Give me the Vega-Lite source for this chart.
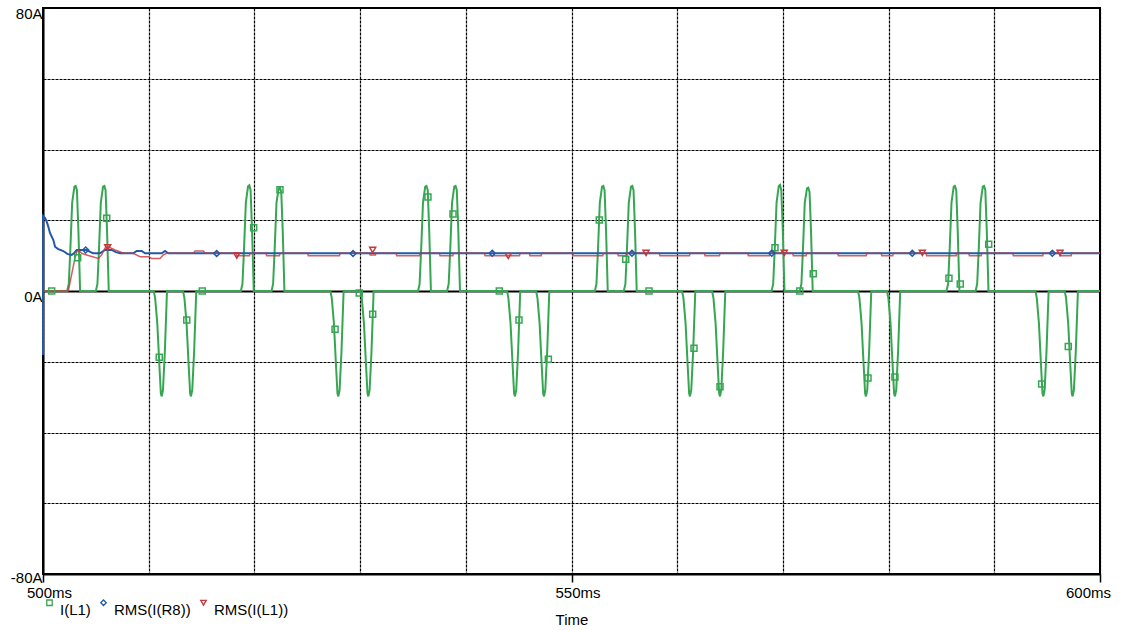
{
  "$schema": "https://vega.github.io/schema/vega-lite/v6.json",
  "width": 1057,
  "height": 566,
  "autosize": {"type": "none"},
  "padding": {"left": 43, "top": 8, "right": 27, "bottom": 56},
  "background": "white",
  "config": {
    "font": "Liberation Sans",
    "view": {"stroke": "#000", "strokeWidth": 2}
  },
  "datasets": {
    "iL1": [
      {"t":500,"v":0},
      {"t":502.29,"v":0},{"t":502.44,"v":2},{"t":502.59,"v":12},{"t":502.76,"v":25},{"t":502.97,"v":29.5},{"t":503.09,"v":29.7},{"t":503.21,"v":28.5},{"t":503.35,"v":17},{"t":503.51,"v":0},
      {"t":505.0,"v":0},{"t":505.15,"v":2},{"t":505.3,"v":12},{"t":505.47,"v":25},{"t":505.68,"v":29.5},{"t":505.8,"v":29.7},{"t":505.92,"v":28.5},{"t":506.06,"v":17},{"t":506.22,"v":0},
      {"t":510.48,"v":0},{"t":510.61,"v":-2},{"t":510.81,"v":-9},{"t":511.01,"v":-21},{"t":511.15,"v":-29},{"t":511.23,"v":-29.8},{"t":511.35,"v":-28},{"t":511.53,"v":-17},{"t":511.73,"v":0},
      {"t":513.25,"v":0},{"t":513.38,"v":-2},{"t":513.58,"v":-9},{"t":513.78,"v":-21},{"t":513.92,"v":-29},{"t":514.0,"v":-29.8},{"t":514.12,"v":-28},{"t":514.3,"v":-17},{"t":514.5,"v":0},
      {"t":518.72,"v":0},{"t":518.87,"v":2},{"t":519.02,"v":12},{"t":519.19,"v":25},{"t":519.4,"v":29.6},{"t":519.52,"v":29.9},{"t":519.64,"v":28.5},{"t":519.78,"v":17},{"t":519.94,"v":0},
      {"t":521.62,"v":0},{"t":521.77,"v":2},{"t":521.92,"v":12},{"t":522.09,"v":25},{"t":522.3,"v":29},{"t":522.42,"v":29.2},{"t":522.54,"v":28},{"t":522.68,"v":17},{"t":522.84,"v":0},
      {"t":527.19,"v":0},{"t":527.32,"v":-2},{"t":527.52,"v":-9},{"t":527.72,"v":-21},{"t":527.86,"v":-29},{"t":527.94,"v":-29.8},{"t":528.06,"v":-28},{"t":528.24,"v":-17},{"t":528.44,"v":0},
      {"t":530.03,"v":0},{"t":530.16,"v":-2},{"t":530.36,"v":-9},{"t":530.56,"v":-21},{"t":530.7,"v":-29},{"t":530.78,"v":-29.8},{"t":530.9,"v":-28},{"t":531.08,"v":-17},{"t":531.28,"v":0},
      {"t":535.48,"v":0},{"t":535.63,"v":2},{"t":535.78,"v":12},{"t":535.95,"v":25},{"t":536.16,"v":29.5},{"t":536.28,"v":29.7},{"t":536.4,"v":28.5},{"t":536.54,"v":17},{"t":536.7,"v":0},
      {"t":538.23,"v":0},{"t":538.38,"v":2},{"t":538.53,"v":12},{"t":538.7,"v":25},{"t":538.91,"v":29.5},{"t":539.03,"v":29.7},{"t":539.15,"v":28.5},{"t":539.29,"v":17},{"t":539.45,"v":0},
      {"t":543.9,"v":0},{"t":544.03,"v":-2},{"t":544.23,"v":-9},{"t":544.43,"v":-21},{"t":544.57,"v":-29},{"t":544.65,"v":-29.8},{"t":544.77,"v":-28},{"t":544.95,"v":-17},{"t":545.15,"v":0},
      {"t":546.65,"v":0},{"t":546.78,"v":-2},{"t":546.98,"v":-9},{"t":547.18,"v":-21},{"t":547.32,"v":-29},{"t":547.4,"v":-29.8},{"t":547.52,"v":-28},{"t":547.7,"v":-17},{"t":547.9,"v":0},
      {"t":552.21,"v":0},{"t":552.36,"v":2},{"t":552.51,"v":12},{"t":552.68,"v":25},{"t":552.89,"v":29.5},{"t":553.01,"v":29.7},{"t":553.13,"v":28.5},{"t":553.27,"v":17},{"t":553.43,"v":0},
      {"t":554.95,"v":0},{"t":555.1,"v":2},{"t":555.25,"v":12},{"t":555.42,"v":25},{"t":555.63,"v":29.5},{"t":555.75,"v":29.7},{"t":555.87,"v":28.5},{"t":556.01,"v":17},{"t":556.17,"v":0},
      {"t":560.46,"v":0},{"t":560.59,"v":-2},{"t":560.79,"v":-9},{"t":560.99,"v":-21},{"t":561.13,"v":-29},{"t":561.21,"v":-29.8},{"t":561.33,"v":-28},{"t":561.51,"v":-17},{"t":561.71,"v":0},
      {"t":563.3,"v":0},{"t":563.43,"v":-2},{"t":563.63,"v":-9},{"t":563.83,"v":-21},{"t":563.97,"v":-29},{"t":564.05,"v":-29.8},{"t":564.17,"v":-28},{"t":564.35,"v":-17},{"t":564.55,"v":0},
      {"t":568.93,"v":0},{"t":569.08,"v":2},{"t":569.23,"v":12},{"t":569.4,"v":25},{"t":569.61,"v":29.7},{"t":569.73,"v":30},{"t":569.85,"v":28.5},{"t":569.99,"v":17},{"t":570.15,"v":0},
      {"t":571.6,"v":0},{"t":571.75,"v":2},{"t":571.9,"v":12},{"t":572.07,"v":25},{"t":572.28,"v":29},{"t":572.4,"v":29.2},{"t":572.52,"v":28},{"t":572.66,"v":17},{"t":572.82,"v":0},
      {"t":577.11,"v":0},{"t":577.24,"v":-2},{"t":577.44,"v":-9},{"t":577.64,"v":-21},{"t":577.78,"v":-29},{"t":577.86,"v":-29.8},{"t":577.98,"v":-28},{"t":578.16,"v":-17},{"t":578.36,"v":0},
      {"t":579.85,"v":0},{"t":579.98,"v":-2},{"t":580.18,"v":-9},{"t":580.38,"v":-21},{"t":580.52,"v":-29},{"t":580.6,"v":-29.8},{"t":580.72,"v":-28},{"t":580.9,"v":-17},{"t":581.1,"v":0},
      {"t":585.48,"v":0},{"t":585.63,"v":2},{"t":585.78,"v":12},{"t":585.95,"v":25},{"t":586.16,"v":29.5},{"t":586.28,"v":29.7},{"t":586.4,"v":28.5},{"t":586.54,"v":17},{"t":586.7,"v":0},
      {"t":588.23,"v":0},{"t":588.38,"v":2},{"t":588.53,"v":12},{"t":588.7,"v":25},{"t":588.91,"v":29.5},{"t":589.03,"v":29.7},{"t":589.15,"v":28.5},{"t":589.29,"v":17},{"t":589.45,"v":0},
      {"t":593.89,"v":0},{"t":594.02,"v":-2},{"t":594.22,"v":-9},{"t":594.42,"v":-21},{"t":594.56,"v":-29},{"t":594.64,"v":-29.8},{"t":594.76,"v":-28},{"t":594.94,"v":-17},{"t":595.14,"v":0},
      {"t":596.66,"v":0},{"t":596.79,"v":-2},{"t":596.99,"v":-9},{"t":597.19,"v":-21},{"t":597.33,"v":-29},{"t":597.41,"v":-29.8},{"t":597.53,"v":-28},{"t":597.71,"v":-17},{"t":597.91,"v":0},
      {"t":600,"v":0}
    ],
    "rmsR8": [
      {"t":500.0,"v":-18.1},{"t":500.01,"v":21.2},{"t":500.2,"v":20.6},{"t":500.35,"v":19.6},{"t":500.5,"v":18.2},{"t":500.66,"v":16.4},{"t":500.98,"v":14.4},{"t":501.14,"v":12.5},{"t":501.4,"v":11.9},{"t":501.92,"v":11.3},{"t":502.3,"v":10.5},{"t":502.72,"v":10.2},{"t":503.0,"v":10.9},{"t":503.19,"v":11.6},{"t":504.13,"v":11.6},{"t":504.5,"v":11.0},{"t":504.76,"v":10.66},{"t":505.39,"v":10.66},{"t":505.7,"v":11.3},{"t":505.87,"v":11.6},{"t":506.5,"v":11.6},{"t":506.9,"v":11.0},{"t":507.28,"v":10.66},{"t":508.54,"v":10.66},{"t":508.86,"v":11.3},{"t":509.34,"v":11.3},{"t":509.65,"v":10.66},{"t":511.23,"v":10.66},{"t":511.54,"v":11.3},{"t":511.85,"v":10.66},{"t":600,"v":10.66}
    ],
    "rmsL1": [
      {"t":500,"v":0},{"t":502.39,"v":0},{"t":502.7,"v":4.5},{"t":503.0,"v":9.0},{"t":503.2,"v":11.1},{"t":503.35,"v":11.6},{"t":503.66,"v":10.66},{"t":504.13,"v":10.2},{"t":505.23,"v":9.2},{"t":505.55,"v":10.2},{"t":505.87,"v":12.1},{"t":506.18,"v":12.5},{"t":506.81,"v":11.6},{"t":507.28,"v":11.1},{"t":507.6,"v":10.66},{"t":508.54,"v":10.66},{"t":509.18,"v":9.7},{"t":509.96,"v":9.7},{"t":510.28,"v":9.2},{"t":511.07,"v":9.2},{"t":511.38,"v":10.2},{"t":511.7,"v":10.66},{"t":514.22,"v":10.66},{"t":514.38,"v":11.3},{"t":515.17,"v":11.3},{"t":515.33,"v":10.66},
      {"t":518.28,"v":10.66},{"t":518.33,"v":10.0},{"t":519.53,"v":10.0},{"t":519.58,"v":10.66},
      {"t":521.11,"v":10.66},{"t":521.16,"v":10.0},{"t":522.37,"v":10.0},{"t":522.42,"v":10.66},
      {"t":525.05,"v":10.66},{"t":525.1,"v":10.0},{"t":528.05,"v":10.0},{"t":528.1,"v":10.66},
      {"t":530.9,"v":10.66},{"t":530.95,"v":10.2},{"t":531.45,"v":10.2},{"t":531.5,"v":10.66},
      {"t":533.41,"v":10.66},{"t":533.46,"v":10.0},{"t":535.62,"v":10.0},{"t":535.67,"v":10.66},
      {"t":537.51,"v":10.66},{"t":537.56,"v":10.0},{"t":538.77,"v":10.0},{"t":538.82,"v":10.66},
      {"t":541.77,"v":10.66},{"t":541.82,"v":10.0},{"t":545.08,"v":10.0},{"t":545.13,"v":10.66},
      {"t":546.02,"v":10.66},{"t":546.07,"v":10.0},{"t":547.13,"v":10.0},{"t":547.18,"v":10.66},
      {"t":550.12,"v":10.66},{"t":550.17,"v":10.0},{"t":552.96,"v":10.0},{"t":553.01,"v":10.66},
      {"t":554.38,"v":10.66},{"t":554.43,"v":10.0},{"t":555.17,"v":10.0},{"t":555.22,"v":10.66},
      {"t":558.32,"v":10.66},{"t":558.37,"v":10.0},{"t":561.16,"v":10.0},{"t":561.21,"v":10.66},
      {"t":562.58,"v":10.66},{"t":562.63,"v":10.0},{"t":564.0,"v":10.0},{"t":564.05,"v":10.66},
      {"t":566.68,"v":10.66},{"t":566.73,"v":10.0},{"t":568.73,"v":10.0},{"t":568.78,"v":10.66},
      {"t":570.93,"v":10.66},{"t":570.98,"v":10.0},{"t":572.2,"v":10.0},{"t":572.25,"v":10.66},
      {"t":575.19,"v":10.66},{"t":575.24,"v":10.0},{"t":577.88,"v":10.0},{"t":577.93,"v":10.66},
      {"t":579.3,"v":10.66},{"t":579.35,"v":10.0},{"t":580.39,"v":10.0},{"t":580.44,"v":10.66},
      {"t":583.55,"v":10.66},{"t":583.6,"v":10.0},{"t":586.39,"v":10.0},{"t":586.44,"v":10.66},
      {"t":587.59,"v":10.66},{"t":587.64,"v":10.0},{"t":588.76,"v":10.0},{"t":588.81,"v":10.66},
      {"t":591.75,"v":10.66},{"t":591.8,"v":10.0},{"t":594.59,"v":10.0},{"t":594.64,"v":10.66},
      {"t":596.17,"v":10.66},{"t":596.22,"v":10.0},{"t":597.27,"v":10.0},{"t":597.32,"v":10.66},
      {"t":600,"v":10.66}
    ],
    "markers": [
      {"series":"I(L1)","t":500.82,"v":0},{"series":"I(L1)","t":503.28,"v":9.4},{"series":"I(L1)","t":506.03,"v":20.6},{"series":"I(L1)","t":511.0,"v":-18.7},{"series":"I(L1)","t":513.6,"v":-8.2},{"series":"I(L1)","t":515.07,"v":0},{"series":"I(L1)","t":519.93,"v":17.9},{"series":"I(L1)","t":522.42,"v":28.6},{"series":"I(L1)","t":527.63,"v":-10.8},{"series":"I(L1)","t":529.92,"v":-0.6},{"series":"I(L1)","t":531.19,"v":-6.6},{"series":"I(L1)","t":536.42,"v":26.6},{"series":"I(L1)","t":538.79,"v":21.8},{"series":"I(L1)","t":543.17,"v":0},{"series":"I(L1)","t":545.03,"v":-8.2},{"series":"I(L1)","t":547.81,"v":-19.3},{"series":"I(L1)","t":552.63,"v":20.1},{"series":"I(L1)","t":555.13,"v":9.0},{"series":"I(L1)","t":557.33,"v":0},{"series":"I(L1)","t":561.59,"v":-16.2},{"series":"I(L1)","t":564.05,"v":-27.1},{"series":"I(L1)","t":569.25,"v":12.2},{"series":"I(L1)","t":571.6,"v":0},{"series":"I(L1)","t":572.87,"v":4.9},{"series":"I(L1)","t":578.05,"v":-24.6},{"series":"I(L1)","t":580.6,"v":-24.3},{"series":"I(L1)","t":585.71,"v":3.6},{"series":"I(L1)","t":586.78,"v":2.0},{"series":"I(L1)","t":589.47,"v":13.2},{"series":"I(L1)","t":594.48,"v":-26.3},{"series":"I(L1)","t":597.0,"v":-15.7},
      {"series":"RMS(I(R8))","t":504.04,"v":11.6},{"series":"RMS(I(R8))","t":516.43,"v":10.6},{"series":"RMS(I(R8))","t":529.33,"v":10.6},{"series":"RMS(I(R8))","t":542.5,"v":10.66},{"series":"RMS(I(R8))","t":555.72,"v":10.66},{"series":"RMS(I(R8))","t":568.94,"v":10.66},{"series":"RMS(I(R8))","t":582.24,"v":10.66},{"series":"RMS(I(R8))","t":595.49,"v":10.66},
      {"series":"RMS(I(L1))","t":506.12,"v":12.35},{"series":"RMS(I(L1))","t":518.33,"v":10.0},{"series":"RMS(I(L1))","t":531.19,"v":11.6},{"series":"RMS(I(L1))","t":544.02,"v":9.9},{"series":"RMS(I(L1))","t":557.05,"v":10.8},{"series":"RMS(I(L1))","t":570.13,"v":10.8},{"series":"RMS(I(L1))","t":583.19,"v":10.8},{"series":"RMS(I(L1))","t":596.22,"v":10.8}
    ]
  },
  "encoding": {
    "x": {
      "field": "t", "type": "quantitative", "title": "Time",
      "scale": {"domain": [500, 600], "nice": false, "zero": false},
      "axis": {
        "values": [500,510,520,530,540,550,560,570,580,590,600],
        "labelExpr": "datum.value % 50 === 0 ? datum.value + 'ms' : ''",
        "grid": true, "gridColor": "#000", "gridDash": [3,1], "gridWidth": 1.2,
        "domainColor": "#000", "domainWidth": 2,
        "tickColor": "#000", "tickWidth": 1.5,
        "tickSize": {"condition": {"test": "datum.value % 50 === 0", "value": 8}, "value": 0},
        "labelFont": "Liberation Sans", "labelFontSize": 15, "labelColor": "#000",
        "labelPadding": 3, "labelFlush": false, "labelOverlap": false,
        "labelOffset": {"condition": {"test": "datum.value === 600", "value": -12}, "value": 6},
        "titleFont": "Liberation Sans", "titleFontSize": 15, "titleFontWeight": "normal", "titleColor": "#000", "titlePadding": 12
      }
    },
    "y": {
      "field": "v", "type": "quantitative", "title": null,
      "scale": {"domain": [-80, 80], "nice": false},
      "axis": {
        "values": [-80,-60,-40,-20,0,20,40,60,80],
        "labelExpr": "datum.value === 80 ? '80A' : datum.value === 0 ? '0A' : datum.value === -80 ? '-80A' : ''",
        "grid": true, "gridColor": "#000",
        "gridDash": {"condition": {"test": "datum.value === 0", "value": []}, "value": [3,1]},
        "gridWidth": {"condition": {"test": "datum.value === 0", "value": 2}, "value": 1.2},
        "ticks": false, "tickSize": 0,
        "domainColor": "#000", "domainWidth": 2,
        "labelFont": "Liberation Sans", "labelFontSize": 15, "labelColor": "#000",
        "labelPadding": 1, "labelBaseline": "alphabetic",
        "labelOffset": {"condition": {"test": "datum.value === -80", "value": 8}, "value": 10},
        "labelFlush": false, "labelOverlap": false
      }
    }
  },
  "layer": [
    {"data": {"name": "iL1"}, "mark": {"type": "line", "color": "#37a653", "strokeWidth": 2}},
    {"data": {"name": "rmsR8"}, "mark": {"type": "line", "color": "#2359a8", "strokeWidth": 2}},
    {"data": {"name": "rmsL1"}, "mark": {"type": "line", "color": "#c8353a", "strokeWidth": 1.5, "opacity": 0.8}},
    {
      "data": {"name": "markers"},
      "mark": {"type": "point", "filled": false, "strokeWidth": 1.5, "size": 36, "opacity": 1},
      "encoding": {
        "color": {
          "field": "series", "type": "nominal",
          "scale": {"domain": ["I(L1)", "RMS(I(R8))", "RMS(I(L1))"], "range": ["#37a653", "#2359a8", "#c8353a"]},
          "legend": {
            "title": null, "orient": "none", "legendX": -1, "legendY": 587, "direction": "horizontal",
            "labelFont": "Liberation Sans", "labelFontSize": 15, "labelColor": "#000", "labelBaseline": "top",
            "symbolSize": 30, "symbolStrokeWidth": 1.3, "labelOffset": 3, "columnPadding": 5, "padding": 0
          }
        },
        "shape": {
          "field": "series", "type": "nominal",
          "scale": {"domain": ["I(L1)", "RMS(I(R8))", "RMS(I(L1))"], "range": ["square", "diamond", "triangle-down"]},
          "legend": {
            "title": null, "orient": "none", "legendX": -1, "legendY": 587, "direction": "horizontal",
            "labelFont": "Liberation Sans", "labelFontSize": 15, "labelColor": "#000", "labelBaseline": "top",
            "symbolSize": 30, "symbolStrokeWidth": 1.3, "labelOffset": 3, "columnPadding": 5, "padding": 0
          }
        }
      }
    }
  ]
}
